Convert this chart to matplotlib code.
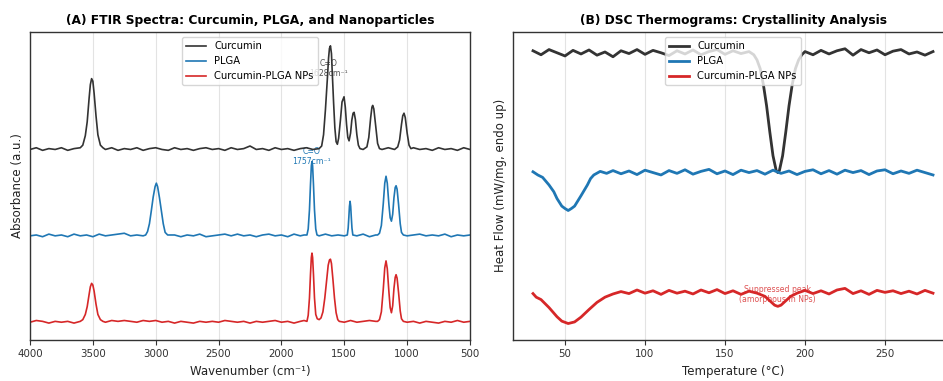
import numpy as np
import matplotlib.pyplot as plt

# FTIR spectra: (wavenumber cm-1, absorbance above own baseline)
curcumin_ftir = np.array([
    [4000, 0.01], [3950, 0.03], [3900, 0.00], [3850, 0.02], [3800, 0.01], [3750, 0.03],
    [3700, 0.00], [3650, 0.02], [3600, 0.03], [3580, 0.06], [3560, 0.17], [3545, 0.33],
    [3530, 0.60], [3520, 0.76], [3510, 0.83], [3500, 0.80], [3490, 0.66], [3475, 0.40],
    [3460, 0.18], [3440, 0.06], [3420, 0.03], [3400, 0.01], [3350, 0.03], [3300, 0.00],
    [3250, 0.02], [3200, 0.01], [3150, 0.03], [3100, 0.00], [3050, 0.02], [3000, 0.03],
    [2950, 0.01], [2900, 0.00], [2850, 0.03], [2800, 0.01], [2750, 0.02], [2700, 0.00],
    [2650, 0.02], [2600, 0.03], [2550, 0.01], [2500, 0.02], [2450, 0.00], [2400, 0.03],
    [2350, 0.01], [2300, 0.02], [2250, 0.05], [2200, 0.01], [2150, 0.02], [2100, 0.00],
    [2050, 0.03], [2000, 0.01], [1950, 0.02], [1900, 0.00], [1850, 0.02], [1800, 0.03],
    [1750, 0.01], [1700, 0.02], [1680, 0.05], [1665, 0.18], [1650, 0.47], [1635, 0.82],
    [1625, 1.07], [1618, 1.18], [1610, 1.21], [1602, 1.12], [1595, 0.88], [1585, 0.55],
    [1575, 0.26], [1565, 0.10], [1555, 0.07], [1545, 0.14], [1530, 0.36], [1518, 0.56],
    [1502, 0.62], [1492, 0.50], [1482, 0.30], [1472, 0.15], [1462, 0.11], [1450, 0.20],
    [1440, 0.35], [1430, 0.43], [1422, 0.44], [1412, 0.36], [1400, 0.18], [1388, 0.06],
    [1375, 0.02], [1350, 0.01], [1320, 0.04], [1305, 0.15], [1290, 0.38], [1280, 0.50],
    [1274, 0.52], [1265, 0.48], [1250, 0.28], [1235, 0.08], [1220, 0.02], [1200, 0.01],
    [1150, 0.03], [1100, 0.01], [1075, 0.04], [1060, 0.12], [1045, 0.30], [1035, 0.40],
    [1025, 0.43], [1015, 0.38], [1000, 0.20], [985, 0.06], [970, 0.02], [950, 0.03],
    [900, 0.01], [850, 0.02], [800, 0.00], [750, 0.03], [700, 0.01], [650, 0.02],
    [600, 0.00], [550, 0.03], [500, 0.01],
])

plga_ftir = np.array([
    [4000, 0.01], [3950, 0.02], [3900, 0.00], [3850, 0.03], [3800, 0.01], [3750, 0.02],
    [3700, 0.00], [3650, 0.03], [3600, 0.01], [3550, 0.02], [3500, 0.00], [3450, 0.03],
    [3400, 0.01], [3350, 0.02], [3300, 0.03], [3250, 0.04], [3200, 0.01], [3150, 0.02],
    [3100, 0.01], [3080, 0.02], [3065, 0.06], [3050, 0.15], [3035, 0.30], [3020, 0.46],
    [3005, 0.58], [2995, 0.62], [2985, 0.58], [2970, 0.45], [2955, 0.30], [2940, 0.15],
    [2925, 0.05], [2905, 0.02], [2850, 0.02], [2800, 0.00], [2750, 0.02], [2700, 0.01],
    [2650, 0.03], [2600, 0.00], [2550, 0.01], [2500, 0.02], [2450, 0.03], [2400, 0.01],
    [2350, 0.03], [2300, 0.01], [2250, 0.02], [2200, 0.00], [2150, 0.02], [2100, 0.03],
    [2050, 0.01], [2000, 0.02], [1950, 0.00], [1900, 0.03], [1850, 0.01], [1820, 0.02],
    [1797, 0.02], [1787, 0.09], [1777, 0.31], [1769, 0.60], [1762, 0.82], [1757, 0.87],
    [1752, 0.82], [1745, 0.60], [1737, 0.31], [1727, 0.09], [1717, 0.02], [1700, 0.01],
    [1650, 0.03], [1600, 0.01], [1550, 0.02], [1500, 0.01], [1476, 0.02], [1469, 0.10],
    [1464, 0.22], [1459, 0.35], [1454, 0.41], [1449, 0.35], [1444, 0.22], [1439, 0.10],
    [1432, 0.02], [1400, 0.01], [1350, 0.03], [1300, 0.00], [1250, 0.02], [1235, 0.02],
    [1220, 0.04], [1205, 0.13], [1190, 0.38], [1178, 0.62], [1168, 0.70], [1158, 0.62],
    [1145, 0.37], [1135, 0.22], [1125, 0.18], [1115, 0.26], [1105, 0.45], [1095, 0.57],
    [1088, 0.59], [1080, 0.55], [1068, 0.37], [1055, 0.15], [1045, 0.05], [1030, 0.02],
    [1000, 0.01], [950, 0.02], [900, 0.03], [850, 0.01], [800, 0.02], [750, 0.01],
    [700, 0.03], [650, 0.00], [600, 0.02], [550, 0.01], [500, 0.02],
])

nps_ftir = np.array([
    [4000, 0.01], [3950, 0.03], [3900, 0.02], [3850, 0.00], [3800, 0.02], [3750, 0.01],
    [3700, 0.02], [3650, 0.00], [3600, 0.02], [3580, 0.04], [3560, 0.10], [3545, 0.19],
    [3530, 0.33], [3520, 0.42], [3510, 0.46], [3500, 0.44], [3490, 0.37], [3475, 0.22],
    [3460, 0.10], [3440, 0.04], [3420, 0.02], [3400, 0.01], [3350, 0.03], [3300, 0.02],
    [3250, 0.03], [3200, 0.02], [3150, 0.01], [3100, 0.03], [3050, 0.02], [3000, 0.03],
    [2950, 0.01], [2900, 0.02], [2850, 0.00], [2800, 0.02], [2750, 0.01], [2700, 0.00],
    [2650, 0.02], [2600, 0.01], [2550, 0.02], [2500, 0.01], [2450, 0.03], [2400, 0.02],
    [2350, 0.01], [2300, 0.02], [2250, 0.00], [2200, 0.02], [2150, 0.01], [2100, 0.02],
    [2050, 0.03], [2000, 0.01], [1950, 0.02], [1900, 0.00], [1850, 0.02], [1820, 0.03],
    [1797, 0.02], [1787, 0.09], [1777, 0.29], [1769, 0.56], [1762, 0.76], [1757, 0.81],
    [1752, 0.76], [1745, 0.56], [1737, 0.29], [1727, 0.10], [1715, 0.05], [1700, 0.04],
    [1685, 0.06], [1670, 0.13], [1655, 0.29], [1640, 0.50], [1628, 0.67], [1618, 0.73],
    [1610, 0.74], [1602, 0.69], [1590, 0.50], [1578, 0.29], [1565, 0.12], [1552, 0.04],
    [1540, 0.02], [1500, 0.01], [1450, 0.03], [1400, 0.01], [1350, 0.02], [1300, 0.03],
    [1250, 0.02], [1235, 0.02], [1220, 0.04], [1205, 0.13], [1190, 0.39], [1178, 0.64],
    [1168, 0.72], [1158, 0.63], [1145, 0.36], [1135, 0.18], [1125, 0.12], [1115, 0.20],
    [1105, 0.40], [1095, 0.53], [1088, 0.56], [1080, 0.52], [1068, 0.35], [1055, 0.14],
    [1045, 0.05], [1030, 0.02], [1000, 0.01], [950, 0.02], [900, 0.00], [850, 0.02],
    [800, 0.01], [750, 0.00], [700, 0.02], [650, 0.01], [600, 0.03], [550, 0.01],
    [500, 0.02],
])

# DSC thermograms: (temperature C, heat flow relative to own baseline)
curcumin_dsc = np.array([
    [30, 0.05], [35, -0.05], [40, 0.08], [45, 0.00], [50, -0.08], [55, 0.06], [60, -0.03],
    [65, 0.07], [70, -0.06], [75, 0.02], [80, -0.10], [85, 0.05], [90, -0.02], [95, 0.08],
    [100, -0.04], [105, 0.06], [110, 0.00], [115, -0.07], [120, 0.05], [125, -0.03],
    [130, 0.07], [135, -0.05], [140, 0.03], [145, 0.08], [150, -0.04], [155, 0.05],
    [160, -0.02], [165, 0.03], [168, -0.05], [170, -0.18], [172, -0.40], [174, -0.80],
    [176, -1.33], [178, -1.98], [180, -2.58], [182, -2.95], [183, -3.00], [184, -2.95],
    [186, -2.58], [188, -1.98], [190, -1.33], [192, -0.80], [194, -0.40], [196, -0.18],
    [198, -0.05], [200, 0.03], [205, -0.05], [210, 0.06], [215, -0.03], [220, 0.05],
    [225, 0.10], [230, -0.06], [235, 0.08], [240, 0.00], [245, 0.07], [250, -0.05],
    [255, 0.04], [260, 0.08], [265, -0.03], [270, 0.02], [275, -0.06], [280, 0.03],
])

plga_dsc = np.array([
    [30, 0.02], [33, -0.06], [36, -0.12], [40, -0.31], [43, -0.48], [45, -0.65],
    [48, -0.84], [50, -0.90], [52, -0.95], [54, -0.90], [56, -0.84], [60, -0.58],
    [64, -0.31], [66, -0.15], [68, -0.06], [72, 0.03], [76, -0.02], [80, 0.05],
    [85, -0.03], [90, 0.04], [95, -0.05], [100, 0.06], [105, 0.00], [110, -0.06],
    [115, 0.05], [120, -0.02], [125, 0.07], [130, -0.04], [135, 0.03], [140, 0.08],
    [145, -0.03], [150, 0.04], [155, -0.05], [160, 0.06], [165, 0.00], [170, 0.05],
    [175, -0.04], [180, 0.06], [185, -0.02], [190, 0.04], [195, -0.05], [200, 0.03],
    [205, 0.07], [210, -0.03], [215, 0.05], [220, -0.04], [225, 0.06], [230, 0.00],
    [235, 0.05], [240, -0.05], [245, 0.04], [250, 0.07], [255, -0.03], [260, 0.04],
    [265, -0.02], [270, 0.06], [275, 0.00], [280, -0.06],
])

nps_dsc = np.array([
    [30, -0.03], [32, -0.12], [35, -0.18], [40, -0.38], [45, -0.61], [48, -0.72],
    [52, -0.78], [56, -0.74], [60, -0.62], [65, -0.43], [70, -0.25], [75, -0.12],
    [80, -0.04], [85, 0.02], [90, -0.03], [95, 0.06], [100, -0.02], [105, 0.04],
    [110, -0.05], [115, 0.05], [120, -0.02], [125, 0.03], [130, -0.04], [135, 0.06],
    [140, -0.01], [145, 0.07], [150, -0.03], [155, 0.04], [160, -0.05], [165, 0.03],
    [170, -0.02], [175, -0.10], [178, -0.21], [181, -0.32], [183, -0.35], [185, -0.32],
    [188, -0.21], [191, -0.10], [195, -0.02], [200, 0.05], [205, -0.03], [210, 0.04],
    [215, -0.04], [220, 0.06], [225, 0.10], [230, -0.03], [235, 0.04], [240, -0.05],
    [245, 0.05], [250, 0.00], [255, 0.04], [260, -0.03], [265, 0.03], [270, -0.04],
    [275, 0.05], [280, -0.02],
])

labels = ['Curcumin', 'PLGA', 'Curcumin-PLGA NPs']
colors = ['#333333', '#1f77b4', '#d62728']
ftir_offsets = [2.0, 1.0, 0.0]
dsc_offsets = [0.0, -3.0, -6.0]

plt.rcParams['font.family'] = 'DejaVu Sans'
fig = plt.figure(figsize=(9.43, 3.81), dpi=100)
ax1 = fig.add_axes([30/943, 1-339.5/381, 440/943, 307.5/381])
# right panel runs past the image edge, as in the reference
ax2 = fig.add_axes([513/943, 1-339.5/381, 440/943, 307.5/381])

# (A) FTIR
for data, off, c, lab in zip([curcumin_ftir, plga_ftir, nps_ftir], ftir_offsets, colors, labels):
    ax1.plot(data[:, 0], data[:, 1]+off, color=c, lw=1.2, label=lab)
ax1.text(1628, 2.95, 'C=O\n1628cm⁻¹', ha='center', va='center', fontsize=5.6,
         color='#555555', zorder=1)
ax1.text(1757, 1.93, 'C=O\n1757cm⁻¹', ha='center', va='center', fontsize=5.6,
         color='#1f77b4', zorder=1)
ax1.set_xlim(4000, 500)
ax1.set_ylim(-0.19, 3.37)
ax1.set_xticks([4000, 3500, 3000, 2500, 2000, 1500, 1000, 500])
ax1.set_yticks([])
ax1.set_xlabel('Wavenumber (cm⁻¹)', fontsize=8.5, color='#222222')
ax1.set_ylabel('Absorbance (a.u.)', fontsize=8.5, color='#222222')
ax1.set_title('(A) FTIR Spectra: Curcumin, PLGA, and Nanoparticles', fontsize=8.8,
              fontweight='bold')
ax1.legend(loc='upper center', fontsize=7.2, framealpha=0.8)

# (B) DSC
for data, off, c, lab in zip([curcumin_dsc, plga_dsc, nps_dsc], dsc_offsets, colors, labels):
    ax2.plot(data[:, 0], data[:, 1]+off, color=c, lw=2, label=lab)
ax2.text(183, -6.05, 'Suppressed peak\n(amorphous in NPs)', ha='center', va='center',
         fontsize=5.6, color='#d62728', alpha=0.8, zorder=1)
ax2.set_xlim(17.5, 292.5)
ax2.set_ylim(-7.18, 0.52)
ax2.set_xticks([50, 100, 150, 200, 250])
ax2.set_yticks([])
ax2.set_xlabel('Temperature (°C)', fontsize=8.5, color='#222222')
ax2.set_ylabel('Heat Flow (mW/mg, endo up)', fontsize=8.5, color='#222222')
ax2.set_title('(B) DSC Thermograms: Crystallinity Analysis', fontsize=8.8,
              fontweight='bold')
ax2.legend(loc='upper center', fontsize=7.2, framealpha=0.8)

for ax in [ax1, ax2]:
    ax.grid(axis='x', color='#e3e3e3', lw=0.8)
    ax.set_axisbelow(True)
    ax.tick_params(labelsize=7.4, colors='#333333')
    for s in ax.spines.values():
        s.set_color('#333333')
        s.set_linewidth(1.0)

fig.savefig('out.png', dpi=100)
